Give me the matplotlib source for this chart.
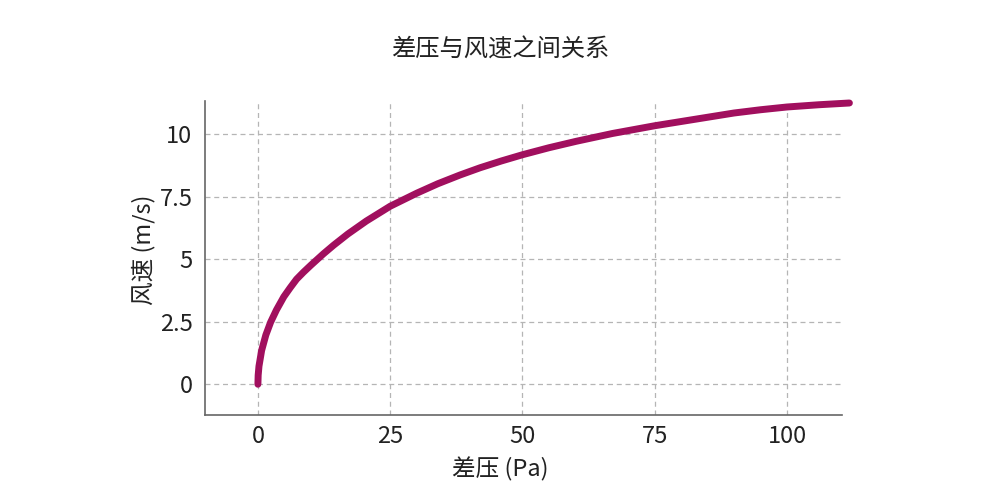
import matplotlib
matplotlib.use("Agg")
import matplotlib.pyplot as plt

plt.rcParams['font.family'] = ['Noto Sans CJK SC', 'DejaVu Sans']

# 差压 (Pa) 与风速 (m/s) 读数
pressure = [0, 0.05, 0.2, 0.7, 1.5, 2.4, 3.5, 4.9, 6.1, 7.3, 8.6, 10.0, 11.25,
            12.4, 14.3, 17.0, 20.5, 25.0, 30.0, 34.0, 38.2, 42.0, 46.0, 50.0,
            55.0, 60.2, 67.0, 75.0, 80.0, 85.0, 90.0, 95.0, 100.0, 106.0, 111.8]
velocity = [0.0, 0.36, 0.72, 1.35, 1.97, 2.48, 2.97, 3.5, 3.86, 4.2, 4.48,
            4.76, 5.0, 5.22, 5.56, 6.01, 6.53, 7.12, 7.64, 8.02, 8.37, 8.66,
            8.93, 9.18, 9.46, 9.72, 10.03, 10.34, 10.51, 10.68, 10.85, 10.98,
            11.09, 11.18, 11.25]

xticks = [0, 25, 50, 75, 100]
yticks = [0, 2.5, 5, 7.5, 10]
ytick_labels = ['0', '2.5', '5', '7.5', '10']

fig = plt.figure(figsize=(10, 5), dpi=100)
ax = fig.add_axes([0.205, 0.17, 0.637, 0.628])

ax.plot(pressure, velocity, color='#A10F5E', lw=5, solid_capstyle='round',
        solid_joinstyle='round', clip_on=False, zorder=3)

ax.set_xlim(-10, 110.4)
ax.set_ylim(-1.23, 11.33)
ax.set_xticks(xticks)
ax.set_yticks(yticks)
ax.set_yticklabels(ytick_labels)
ax.tick_params(axis='x', length=0, labelsize=17, pad=7, colors='#222222')
ax.tick_params(axis='y', length=0, labelsize=17, pad=9, colors='#222222')

ax.grid(True, ls=(0, (4, 3)), color='#b5b5b5', lw=0.9)
for side in ['top', 'right']:
    ax.spines[side].set_visible(False)
for side in ['left', 'bottom']:
    ax.spines[side].set_color('#666666')
    ax.spines[side].set_linewidth(1.2)

# 轴标题以整张图为中心
ax.set_xlabel('差压 (Pa)', fontsize=17, color='#222222')
ax.set_ylabel('风速 (m/s)', fontsize=17, color='#222222')
ax.xaxis.set_label_coords(0.463, -0.135)
ax.yaxis.set_label_coords(-0.078, 0.525)
fig.text(0.5, 0.9, '差压与风速之间关系', ha='center', va='center',
         fontsize=17.5, color='#222222')

fig.savefig('out.png', dpi=100)
